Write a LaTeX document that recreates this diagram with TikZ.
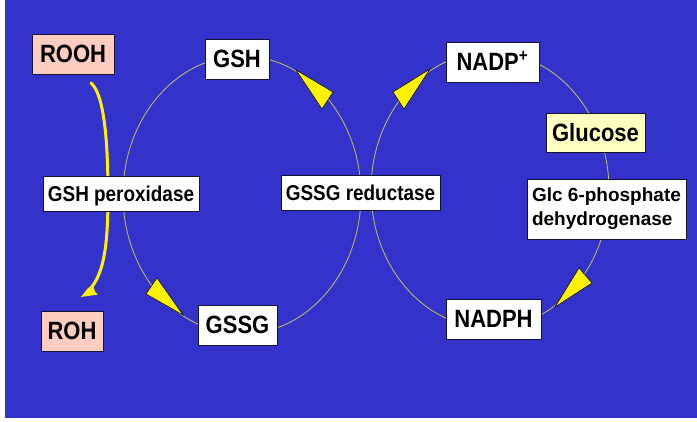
\documentclass[tikz,border=0pt]{standalone}
\usepackage{fontspec}
\setmainfont{Liberation Sans}
\newfontfamily\narrowf{Liberation Sans}[FakeStretch=0.88]
\definecolor{bgblue}{RGB}{51,51,204}
\definecolor{ringc}{RGB}{196,196,96}
\definecolor{pinkc}{RGB}{255,204,192}
\definecolor{creamc}{RGB}{255,255,192}
\definecolor{edgec}{RGB}{20,20,50}
\begin{document}
\begin{tikzpicture}[x=1pt,y=-1pt,
  ring/.style={draw=ringc,line width=0.8pt},
  tri/.style={fill=yellow,draw=black,line width=0.5pt,line join=miter},
  box/.style={draw=edgec,line width=0.8pt,fill=white,inner sep=0pt,
    font=\narrowf\bfseries\fontsize{25}{29}\selectfont,text height=17.9pt,text depth=0pt},
  enz/.style={box,font=\narrowf\bfseries\fontsize{21.5}{25}\selectfont,text height=15.4pt,text depth=0pt}]
\useasboundingbox (0,0) rectangle (697,421);
\fill[bgblue] (5,0) rectangle (697,418);
% cycles
\draw[ring] (242,195) ellipse [x radius=119, y radius=139];
\draw[ring] (490,190) ellipse [x radius=119, y radius=138];
% arrowheads on the cycles
\filldraw[tri] (296,70) -- (333,92) -- (322,109) -- cycle;
\filldraw[tri] (430,69) -- (393,92) -- (404,109) -- cycle;
\filldraw[tri] (183,315) -- (157,278) -- (146,294) -- cycle;
\filldraw[tri] (555,307) -- (579,268) -- (592,283) -- cycle;
% ROOH -> ROH
\coordinate (c1) at (91,83);
\coordinate (c2) at (91,288);
\coordinate (tip) at (81,297);
\draw[yellow,line width=3pt,line cap=round] (c1) .. controls (104,94) and (108,140) .. (108,195)
   .. controls (108,245) and (104,272) .. (c2);
\fill[yellow] (tip) -- (98,294.5) -- (95,291.5) -- (93,285) -- (88,288) -- cycle;
% nodes
\node[box,fill=pinkc,minimum width=82pt,minimum height=40pt] (rooh) at (73,54) {ROOH};
\node[box,fill=pinkc,minimum width=62pt,minimum height=40pt] (roh) at (72,331) {ROH};
\node[box,minimum width=64pt,minimum height=40pt] (gsh) at (237,59) {GSH};
\node[box,minimum width=79pt,minimum height=40pt] (gssg) at (237.5,325) {GSSG};
\node[box,minimum width=93pt,minimum height=40pt] (nadp) at (492.5,62) {NADP\textsuperscript{+}};
\node[box,minimum width=95pt,minimum height=40pt] (nadph) at (493.5,319) {NADPH};
\node[box,fill=creamc,minimum width=99pt,minimum height=39pt] (glc) at (595.5,132.5) {Glucose};
\node[enz,minimum width=156pt,minimum height=35pt] (gpx) at (121,193.5) {GSH peroxidase};
\node[enz,minimum width=159pt,minimum height=35pt] (gr) at (360.5,192.5) {GSSG reductase};
\node[box,minimum width=159pt,minimum height=60pt,align=left,
  font=\bfseries\fontsize{19}{24}\selectfont,text height=,text depth=] (g6pd) at (606.5,209)
  {Glc 6-phosphate\\dehydrogenase};
\end{tikzpicture}
\end{document}
